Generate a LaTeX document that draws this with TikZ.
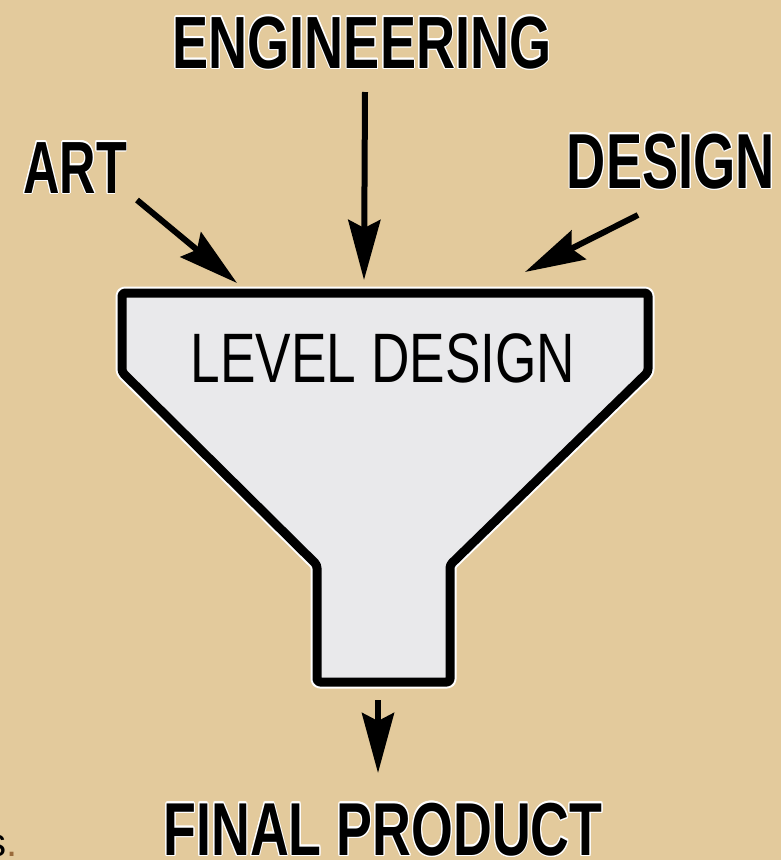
\documentclass[tikz,border=0pt]{standalone}
\usepackage{fontspec}
\setmainfont{Liberation Sans}
\usepackage[copies]{contour}
\contourlength{1.4pt}
\usetikzlibrary{arrows.meta}

\definecolor{bgtan}{HTML}{E3CA9C}
\definecolor{funnelgray}{HTML}{E9E9EB}
\definecolor{dotbrown}{HTML}{9A6A3A}

\tikzset{
  lbl/.style={inner sep=0pt, anchor=base, xscale=0.71,
    font=\fontsize{#1}{#1}\selectfont\bfseries},
  feed/.style={line width=6pt, -{Stealth[length=60pt,width=32pt,inset=8pt]}},
}

\begin{document}
\begin{tikzpicture}[x=1pt, y=-1pt, line join=round]

  %% ==== background ====
  \fill[bgtan] (0,0) rectangle (781,860);

  %% ==== funnel (halo, fill, outline) ====
  \draw[white, line width=13pt, rounded corners=3pt]
    (122,293) -- (648,293) -- (648,372) -- (450,565) -- (450,682)
    -- (317,682) -- (317,565) -- (122,372) -- cycle;
  \draw[black, fill=funnelgray, line width=9pt, rounded corners=3pt]
    (122,293) -- (648,293) -- (648,372) -- (450,565) -- (450,682)
    -- (317,682) -- (317,565) -- (122,372) -- cycle;

  %% ==== labels ====
  \node[lbl=74, xscale=1.03] (engineering) at (362,68) {\contour{white}{ENGINEERING}};
  \node[lbl=74, xscale=0.96] (art) at (75,193) {\contour{white}{ART}};
  \node[lbl=78, xscale=0.98] (design) at (671,188) {\contour{white}{DESIGN}};
  \node[inner sep=0pt, anchor=base, xscale=0.76,
        font=\fontsize{70}{70}\selectfont] (level) at (383,382) {LEVEL DESIGN};
  \node[lbl=75, xscale=1.01] (final) at (383,855) {\contour{white}{FINAL PRODUCT}};
  \node[inner sep=0pt, anchor=base west, font=\fontsize{40}{40}\selectfont]
    (cut) at (-14,856) {s\textcolor{dotbrown}{.}};

  %% ==== arrows into and out of the funnel ====
  \coordinate (engFrom) at (365,92);
  \coordinate (engTo) at (364,280);
  \coordinate (artFrom) at (137,200);
  \coordinate (artTo) at (237,283);
  \coordinate (desFrom) at (638,215);
  \coordinate (desTo) at (525,272);
  \coordinate (outFrom) at (378,700);
  \coordinate (outTo) at (378,773);

  \draw[feed] (engFrom) -- (engTo);
  \draw[feed] (artFrom) -- (artTo);
  \draw[feed] (desFrom) -- (desTo);
  \draw[feed] (outFrom) -- (outTo);

  \pgfresetboundingbox
  \path[use as bounding box] (0,0) rectangle (781,860);
\end{tikzpicture}
\end{document}
